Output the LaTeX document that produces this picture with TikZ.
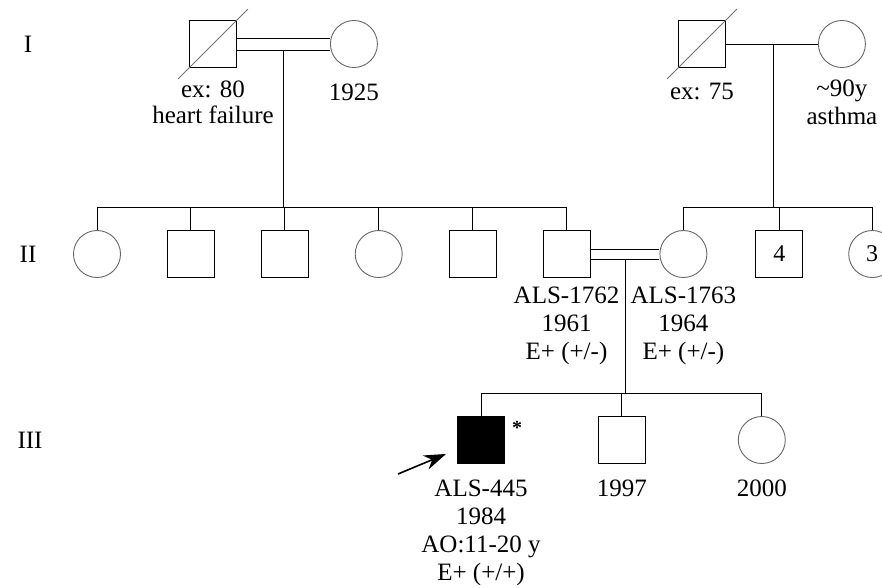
\documentclass[tikz,border=0pt]{standalone}
\usepackage{fontspec}
\setmainfont{Liberation Serif}
\usetikzlibrary{arrows.meta,positioning,calc}
\tikzset{
  male/.style={draw, line width=0.9pt, minimum size=47pt, inner sep=0pt, font=\fontsize{24}{28}\selectfont},
  female/.style={draw=black!60, circle, line width=0.9pt, minimum size=47pt, inner sep=0pt, font=\fontsize{24}{28}\selectfont},
  affected/.style={male, fill=black},
  info/.style={align=center, inner sep=0pt, font=\fontsize{25}{28}\selectfont},
  gen/.style={inner sep=0pt, font=\fontsize{25}{28}\selectfont},
  line/.style={line width=0.9pt},
  deceased/.style={draw=black!55, line width=0.8pt},
  proband/.style={-{Stealth[length=22pt,width=15pt,inset=7pt]}, line width=1.6pt}
}

\begin{document}
\begin{tikzpicture}[x=1pt, y=-1pt]
  \clip (0,0) rectangle (882,587);

  % generations
  \node[gen] (g1) at (28,44) {I};
  \node[gen] (g2) at (28,254) {II};
  \node[gen] (g3) at (30,440) {III};

  % generation I
  \node[male] (i1) at (213,44) {};
  \node[female, right=93pt of i1] (i2) {};
  \node[male] (i3) at (702,44) {};
  \node[female, right=92pt of i3] (i4) {};

  \node[info, below=13pt of i1, font=\fontsize{25}{26}\selectfont] (li1) {ex: 80\\heart failure};
  \node[info, below=16pt of i2] (li2) {1925};
  \node[info, below=15pt of i3] (li3) {ex: 75};
  \node[info, below=12pt of i4] (li4) {\textasciitilde 90y\\asthma};

  % generation II
  \node[female] (ii1) at (97,254) {};
  \node[male, right=46pt of ii1] (ii2) {};
  \node[male, right=46pt of ii2] (ii3) {};
  \node[female, right=46pt of ii3] (ii4) {};
  \node[male, right=46pt of ii4] (ii5) {};
  \node[male, right=46pt of ii5] (ii6) {};
  \node[female, right=69pt of ii6] (ii7) {};
  \node[male, right=48pt of ii7] (ii8) {4};
  \node[female, right=45pt of ii8] (ii9) {3};

  \node[info, below=9pt of ii6] (lii6) {ALS-1762\\1961\\E+ (+/-)};
  \node[info, below=9pt of ii7] (lii7) {ALS-1763\\1964\\E+ (+/-)};

  % generation III
  \node[affected] (iii1) at (481,440) {};
  \node[male, right=93pt of iii1] (iii2) {};
  \node[female, right=92pt of iii2] (iii3) {};
  \node[font=\fontsize{20}{24}\selectfont\bfseries, inner sep=0pt] (star) at (517,428) {*};

  \node[info, below=16pt of iii1] (liii1) {ALS-445\\1984\\AO:11-20 y\\E+ (+/+)};
  \node[info, below=16pt of iii2] (liii2) {1997};
  \node[info, below=16pt of iii3] (liii3) {2000};

  % deceased
  \draw[deceased] ($(i1.south west)+(-11,11)$) -- ($(i1.north east)+(11,-11)$);
  \draw[deceased] ($(i3.south west)+(-11,11)$) -- ($(i3.north east)+(11,-11)$);

  % couples
  \draw[line] ([yshift=6pt]i1.east) -- ([yshift=6pt]i1.east -| i2.west);
  \draw[line] ([yshift=-6pt]i1.east) -- ([yshift=-6pt]i1.east -| i2.west);
  \draw[line] (i3.east) -- (i4.west);
  \draw[line] ([yshift=5pt]ii6.east) -- ([yshift=5pt]ii6.east -| ii7.west);
  \draw[line] ([yshift=-5pt]ii6.east) -- ([yshift=-5pt]ii6.east -| ii7.west);

  \coordinate (m1) at ($([yshift=-6pt]i1.east)!0.5!([yshift=-6pt]i1.east -| i2.west)$);
  \coordinate (m2) at (773,44);
  \coordinate (m3) at ($([yshift=-5pt]ii6.east)!0.5!([yshift=-5pt]ii6.east -| ii7.west)$);
  \coordinate (sibL) at (0,207);
  \coordinate (sibIII) at (0,393);

  % sibships
  \draw[line] (m1) -- (m1 |- sibL);
  \draw[line] (ii1.north |- sibL) -- (ii6.north |- sibL);
  \foreach \k in {1,...,6}
    \draw[line] (ii\k.north) -- (ii\k.north |- sibL);

  \draw[line] (m2) -- (m2 |- sibL);
  \draw[line] (ii7.north |- sibL) -- (ii9.north |- sibL);
  \foreach \k in {7,8,9}
    \draw[line] (ii\k.north) -- (ii\k.north |- sibL);

  \draw[line] (m3) -- (m3 |- sibIII);
  \draw[line] (iii1.north |- sibIII) -- (iii3.north |- sibIII);
  \foreach \k in {1,2,3}
    \draw[line] (iii\k.north) -- (iii\k.north |- sibIII);

  % proband
  \coordinate (arrtail) at (398,474);
  \draw[proband] (arrtail) -- ($(iii1.south west)+(-11,-10)$);
\end{tikzpicture}
\end{document}
